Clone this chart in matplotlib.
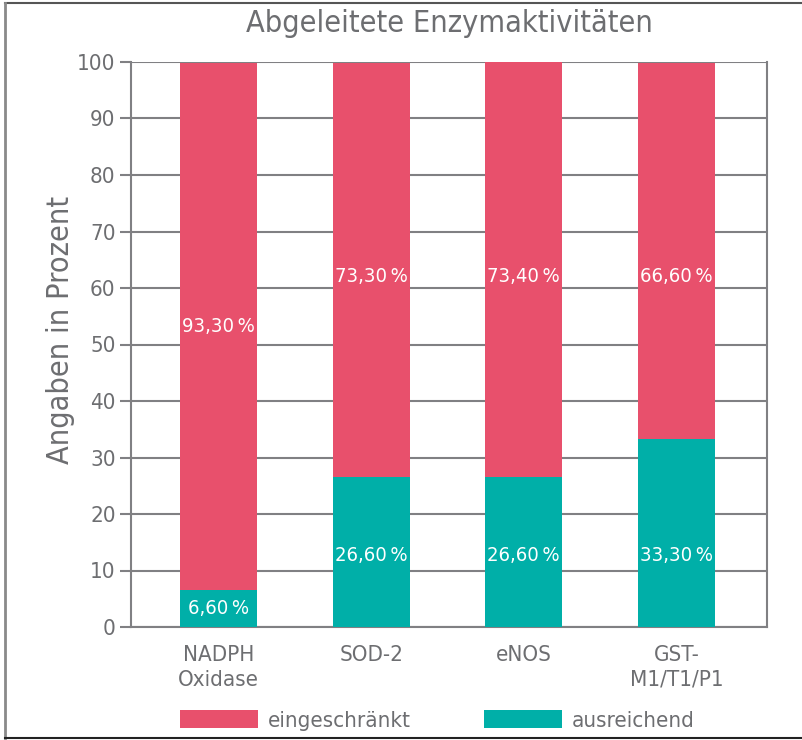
import matplotlib
matplotlib.use("Agg")
import matplotlib.pyplot as plt
from matplotlib.patches import Patch
from matplotlib.lines import Line2D

categories = ["NADPH\nOxidase", "SOD-2", "eNOS", "GST-\nM1/T1/P1"]
ausreichend = [6.6, 26.6, 26.6, 33.3]
eingeschraenkt = [93.3, 73.3, 73.4, 66.6]
label_ausreichend = ["6,60\u2009%", "26,60\u2009%", "26,60\u2009%", "33,30\u2009%"]
label_eingeschraenkt = ["93,30\u2009%", "73,30\u2009%", "73,40\u2009%", "66,60\u2009%"]
yticks = [0, 10, 20, 30, 40, 50, 60, 70, 80, 90, 100]

RED = "#E8506C"
TEAL = "#00AFA8"
GRAY = "#6d6e71"
LINE = "#808083"

# label placement: centre of segment, capped (as in the original layout)
CAP_RED = 62.1
CAP_TEAL = 12.7

plt.rcParams['font.family'] = ['DejaVu Sans']
plt.rcParams['font.stretch'] = 'condensed'

W, H = 802, 740
fig = plt.figure(figsize=(W / 100, H / 100), dpi=100)
ax = fig.add_axes([131 / W, 1 - 627 / H, (767 - 131) / W, (627 - 62) / H])

x = list(range(len(categories)))
bw = 0.504
ax.bar(x, ausreichend, width=bw, color=TEAL, zorder=3)
ax.bar(x, eingeschraenkt, width=bw, bottom=ausreichend, color=RED, zorder=3)

for i in x:
    yt = min(ausreichend[i] / 2, CAP_TEAL)
    yr = min(ausreichend[i] + eingeschraenkt[i] / 2, CAP_RED)
    ax.text(i, yt, label_ausreichend[i], ha="center", va="center",
            color="white", fontsize=14.5, zorder=4)
    ax.text(i, yr, label_eingeschraenkt[i],
            ha="center", va="center", color="white", fontsize=14.5, zorder=4)

ax.set_xlim(-0.573, 3.593)
ax.set_ylim(0, 100)
ax.set_yticks(yticks)
ax.set_xticks(x)
ax.set_xticklabels(categories, fontsize=16, color=GRAY, linespacing=1.3)
ax.tick_params(axis="x", length=0, pad=13)
ax.tick_params(axis="y", length=8, width=1.5, color=LINE, labelsize=16,
               labelcolor=GRAY, pad=3)
ax.yaxis.grid(True, color=LINE, linewidth=1.5, zorder=1)
ax.set_axisbelow(True)
for s in ["left", "right", "bottom", "top"]:
    ax.spines[s].set_color(LINE)
    ax.spines[s].set_linewidth(1.5)
ax.spines["top"].set_visible(False)

ax.set_ylabel("Angaben in Prozent", fontsize=22, color=GRAY)
ax.yaxis.set_label_coords(-0.088, 0.526)
fig.text(449 / W, 1 - 23 / H, "Abgeleitete Enzymaktivitäten", ha="center",
         va="center", fontsize=22, color=GRAY)

handles = [Patch(facecolor=RED, edgecolor="none"), Patch(facecolor=TEAL, edgecolor="none")]
fig.legend(handles, ["eingeschränkt", "ausreichend"], loc="upper left",
           bbox_to_anchor=(180 / W, 1 - 710 / H), bbox_transform=fig.transFigure,
           ncol=2, frameon=False, fontsize=16, borderpad=0, borderaxespad=0,
           handlelength=3.5, handleheight=0.85, handletextpad=0.45,
           columnspacing=3.3, labelcolor=GRAY)

# outer frame
fig.add_artist(Line2D([5 / W, 1], [1 - 3 / H, 1 - 3 / H], color="#555555", lw=1.5))
fig.add_artist(Line2D([5 / W, 5 / W], [1 - 3 / H, 1 - 738 / H], color="#8a8a8a", lw=2))
fig.add_artist(Line2D([5 / W, 1], [1 - 738 / H, 1 - 738 / H], color="#222222", lw=1.5))

fig.savefig("out.png", dpi=100)
